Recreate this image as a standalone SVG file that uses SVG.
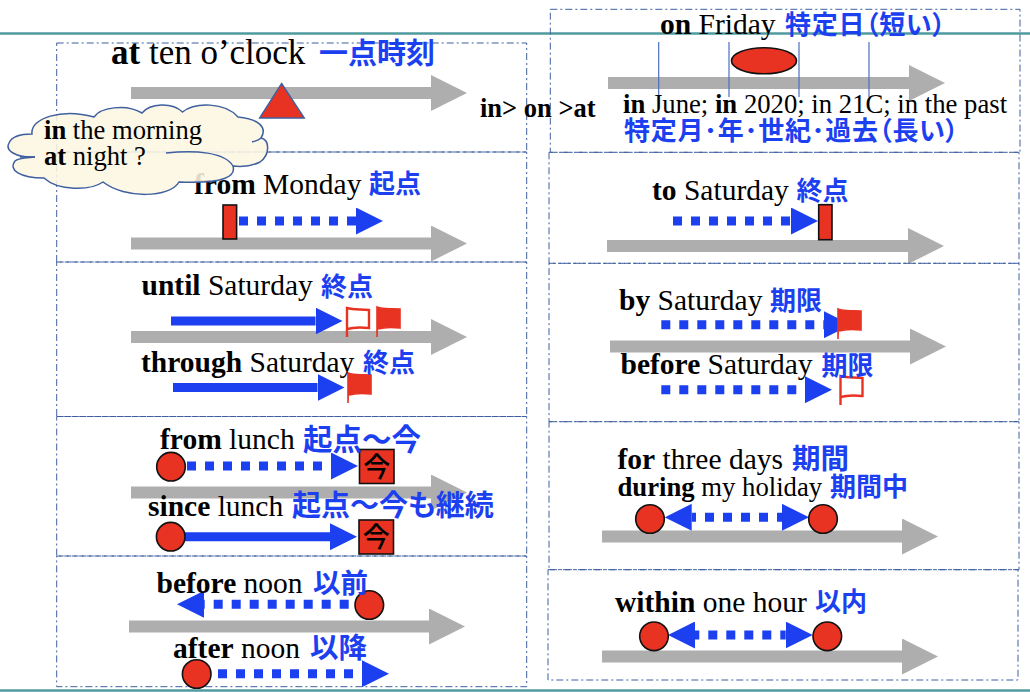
<svg xmlns="http://www.w3.org/2000/svg" width="1030" height="692" viewBox="0 0 1030 692">
<style>
text{font-family:"Liberation Serif","Times New Roman",serif;fill:#000;font-size:29.500px}
.b{font-weight:700}
.j{font-family:"Noto Sans CJK JP","Noto Sans",sans-serif;fill:#1c3ff0;font-weight:700;font-size:26px;font-feature-settings:"palt"}
.box{fill:none;stroke:#3f5f9f;stroke-width:1;stroke-dasharray:7 3 2 3}
.rule{stroke:#4f9a9f;stroke-width:2.500}
.gray{stroke:#aeaeae;stroke-width:12;marker-end:url(#gh);fill:none}
.dot{stroke:#1c3ff0;stroke-width:9;stroke-dasharray:9 9;marker-end:url(#bh);fill:none}
.dot2{stroke:#1c3ff0;stroke-width:9;stroke-dasharray:9 9;marker-end:url(#bh);marker-start:url(#bh);fill:none}
.sol{stroke:#1c3ff0;stroke-width:9;marker-end:url(#bh);fill:none}
.red{fill:#e83323;stroke:#111;stroke-width:1.600}
.tick{stroke:#4a6fc0;stroke-width:1.200}
.now{font-family:"Noto Sans CJK JP",sans-serif;font-size:27px;font-weight:500;fill:#000;text-anchor:middle}
</style>
<defs>
<marker id="gh" markerUnits="userSpaceOnUse" markerWidth="36" markerHeight="36" viewBox="0 0 36 36" refX="0" refY="18" orient="auto"><path d="M0,0L36,18L0,36Z" fill="#aeaeae"/></marker>
<marker id="bh" markerUnits="userSpaceOnUse" markerWidth="27" markerHeight="27" viewBox="0 0 27 27" refX="0" refY="13.500" orient="auto-start-reverse"><path d="M0,0L27,13.500L0,27Z" fill="#1c3ff0"/></marker>
<g id="flag"><path d="M0,30V0C8,3 14,1 23,2V21C14,20 8,20 1,22" fill="#e83323" stroke="#e83323" stroke-width="1.600"/></g>
<g id="flagh"><path d="M1,30V1C8,3 14,2 23,3V21C14,20 8,20 1,22" fill="none" stroke="#e83323" stroke-width="2.400"/></g>
<g id="now"><rect x="0" y="0" width="34.500" height="34" class="red"/><text x="17.200" y="27" class="now">今</text></g>
</defs>
<g id="rules">
<line class="rule" x1="0" y1="33.500" x2="1030" y2="33.500"/>
<line class="rule" x1="0" y1="690.500" x2="1030" y2="690.500"/>
</g>
<g id="connectors">
<line class="gray" x1="131" y1="93" x2="431" y2="93"/>
<line class="gray" x1="131" y1="243.500" x2="431" y2="243.500"/>
<line class="gray" x1="131" y1="337" x2="431" y2="337"/>
<line class="gray" x1="131" y1="492.500" x2="431" y2="492.500"/>
<line class="gray" x1="129" y1="626.500" x2="429" y2="626.500"/>
<line class="gray" x1="608" y1="83" x2="909" y2="83"/>
<line class="gray" x1="607" y1="246" x2="908" y2="246"/>
<line class="gray" x1="610" y1="346.500" x2="910" y2="346.500"/>
<line class="gray" x1="602" y1="536.500" x2="902" y2="536.500"/>
<line class="gray" x1="602" y1="656.500" x2="902" y2="656.500"/>
<line class="tick" x1="658.700" y1="42" x2="658.700" y2="97"/>
<line class="tick" x1="729" y1="42" x2="729" y2="97"/>
<line class="tick" x1="799" y1="42" x2="799" y2="97"/>
<line class="tick" x1="869" y1="42" x2="869" y2="97"/>
<line class="dot" x1="239" y1="221" x2="356" y2="221"/>
<line class="dot" x1="673" y1="221" x2="791" y2="221"/>
<line class="sol" x1="171" y1="321" x2="315.500" y2="321"/>
<line class="sol" x1="173" y1="387.500" x2="317.500" y2="387.500"/>
<line class="dot" x1="187" y1="466" x2="331" y2="466"/>
<line class="sol" x1="185" y1="536.700" x2="330" y2="536.700"/>
<line class="dot" x1="348.700" y1="604.300" x2="204" y2="604.300"/>
<line class="dot" x1="218" y1="673.700" x2="362" y2="673.700"/>
<line class="dot" x1="661.300" y1="324.700" x2="824" y2="324.700"/>
<line class="dot" x1="661.300" y1="389.700" x2="805" y2="389.700"/>
<line class="dot2" stroke-dashoffset="4.700" x1="691.700" y1="517.300" x2="782" y2="517.300"/>
<line class="dot2" stroke-dashoffset="4.700" x1="695" y1="635" x2="785.700" y2="635"/>
</g>
<g id="panel-at">
<rect class="box" x="56.700" y="43" width="470" height="109"/>
<path d="M281.600,83.500L304.300,118H259.600Z" fill="#e83323" stroke="#3f5f9f" stroke-width="1.400"/>
<text x="111" y="64" style="font-size:35px"><tspan class="b">at</tspan> ten o’clock</text>
<text class="j" x="319" y="64" style="font-size:29px">一点時刻</text>
</g>
<g id="panel-from">
<rect class="box" x="56.700" y="152" width="470" height="110"/>
<rect class="red" x="223" y="205" width="13.600" height="34"/>
<text x="194" y="194"><tspan class="b">from</tspan> Monday</text>
<text class="j" x="369" y="193">起点</text>
</g>
<g id="panel-until">
<rect class="box" x="56.700" y="262" width="470" height="154.500"/>
<use href="#flagh" x="346" y="307"/>
<use href="#flag" x="377" y="307"/>
<use href="#flag" x="348" y="373"/>
<text x="141.500" y="295"><tspan class="b">until</tspan> Saturday</text>
<text class="j" x="321" y="296">終点</text>
<text x="141" y="371.500"><tspan class="b">through</tspan> Saturday</text>
<text class="j" x="363" y="372">終点</text>
</g>
<g id="panel-since">
<rect class="box" x="56.700" y="416.500" width="470" height="139.500"/>
<circle class="red" cx="171" cy="466.700" r="14.300"/>
<use href="#now" x="359.500" y="449.500"/>
<circle class="red" cx="170.700" cy="536.700" r="14.300"/>
<use href="#now" x="359" y="520"/>
<text x="160" y="449"><tspan class="b">from</tspan> lunch</text>
<text class="j" x="303" y="450" style="font-size:29.500px">起点～今</text>
<text x="148" y="516"><tspan class="b">since</tspan> lunch</text>
<text class="j" x="292" y="516" style="font-size:29px">起点～今も継続</text>
</g>
<g id="panel-before">
<rect class="box" x="56.700" y="556" width="470" height="130.700"/>
<circle class="red" cx="369.300" cy="605" r="14.300"/>
<circle class="red" cx="196.700" cy="674" r="14.300"/>
<text x="156.500" y="593"><tspan class="b">before</tspan> noon</text>
<text class="j" x="313" y="593" style="font-size:27.500px">以前</text>
<text x="173" y="657.700"><tspan class="b">after</tspan> noon</text>
<text class="j" x="310" y="658" style="font-size:28.500px">以降</text>
</g>
<g id="order">
<text class="b" x="480" y="116.700" style="font-size:26.500px">in&gt; on &gt;at</text>
</g>
<g id="panel-on">
<rect class="box" x="550.300" y="9.300" width="469.700" height="143"/>
<ellipse class="red" cx="764" cy="60.700" rx="32.500" ry="13"/>
<text x="660" y="34"><tspan class="b">on</tspan> Friday</text>
<text class="j" x="785" y="34" style="letter-spacing:.8px">特定日（短い）</text>
<text x="623" y="112.700" style="font-size:26.700px"><tspan class="b">in</tspan> June; <tspan class="b">in</tspan> 2020; in 21C; in the past</text>
<text class="j" x="624" y="140" style="letter-spacing:.7px">特定月･年･世紀･過去（長い）</text>
</g>
<g id="panel-to">
<rect class="box" x="549" y="152.300" width="470" height="111"/>
<rect class="red" x="818.700" y="204.700" width="13.300" height="35"/>
<text x="652" y="199.500"><tspan class="b">to</tspan> Saturday</text>
<text class="j" x="796.500" y="200">終点</text>
</g>
<g id="panel-by">
<rect class="box" x="549" y="263.300" width="470" height="158.400"/>
<use href="#flag" x="838" y="309"/>
<use href="#flagh" x="839.500" y="375"/>
<text x="619" y="310"><tspan class="b">by</tspan> Saturday</text>
<text class="j" x="770" y="310">期限</text>
<text x="620.500" y="374.300"><tspan class="b">before</tspan> Saturday</text>
<text class="j" x="821.500" y="375">期限</text>
</g>
<g id="panel-for">
<rect class="box" x="549" y="421.700" width="470" height="148"/>
<circle class="red" cx="650" cy="519" r="14.300"/>
<circle class="red" cx="823" cy="519" r="14.300"/>
<text x="617.500" y="469.300"><tspan class="b">for</tspan> three days</text>
<text class="j" x="792" y="469" style="font-size:28.500px">期間</text>
<text x="617.500" y="495.700" style="font-size:26.700px"><tspan class="b">during</tspan> my holiday</text>
<text class="j" x="830" y="496">期間中</text>
</g>
<g id="panel-within">
<rect class="box" x="548" y="569.700" width="470" height="110.300"/>
<circle class="red" cx="654" cy="636.300" r="14.300"/>
<circle class="red" cx="827.300" cy="636.300" r="14.300"/>
<text x="615" y="611.700"><tspan class="b">within</tspan> one hour</text>
<text class="j" x="815" y="611">以内</text>
</g>
<g id="cloud">
<path d="M32,134C30,118 62,108 94,117C100,108 125,103 142,113C150,103 172,102 182.500,112C195,102 225,102 238,117C258,119 268,127 261,138C270,140 270,155 260,162C252,166 242,167 233,166C236,176 225,184 179,182C170,198 125,199 103,182C90,191 58,191 44,178C20,178 8,170 15,161C18,158 25,158 35,157C15,158 5,150 9,143C12,136 22,134 32,134Z" fill="#fdf6e3" fill-opacity=".88" stroke="#3f5f9f" stroke-width="1.500"/>
<path d="M166,153C195,150 225,152 233,166M252,142C256,141 259,140 261,138M35,157H20" fill="none" stroke="#3f5f9f" stroke-width="1.500"/>
<text x="44" y="139" style="font-size:26.600px"><tspan class="b">in</tspan> the morning</text>
<text x="44" y="165" style="font-size:26.600px"><tspan class="b">at</tspan> night ?</text>
</g>
</svg>
